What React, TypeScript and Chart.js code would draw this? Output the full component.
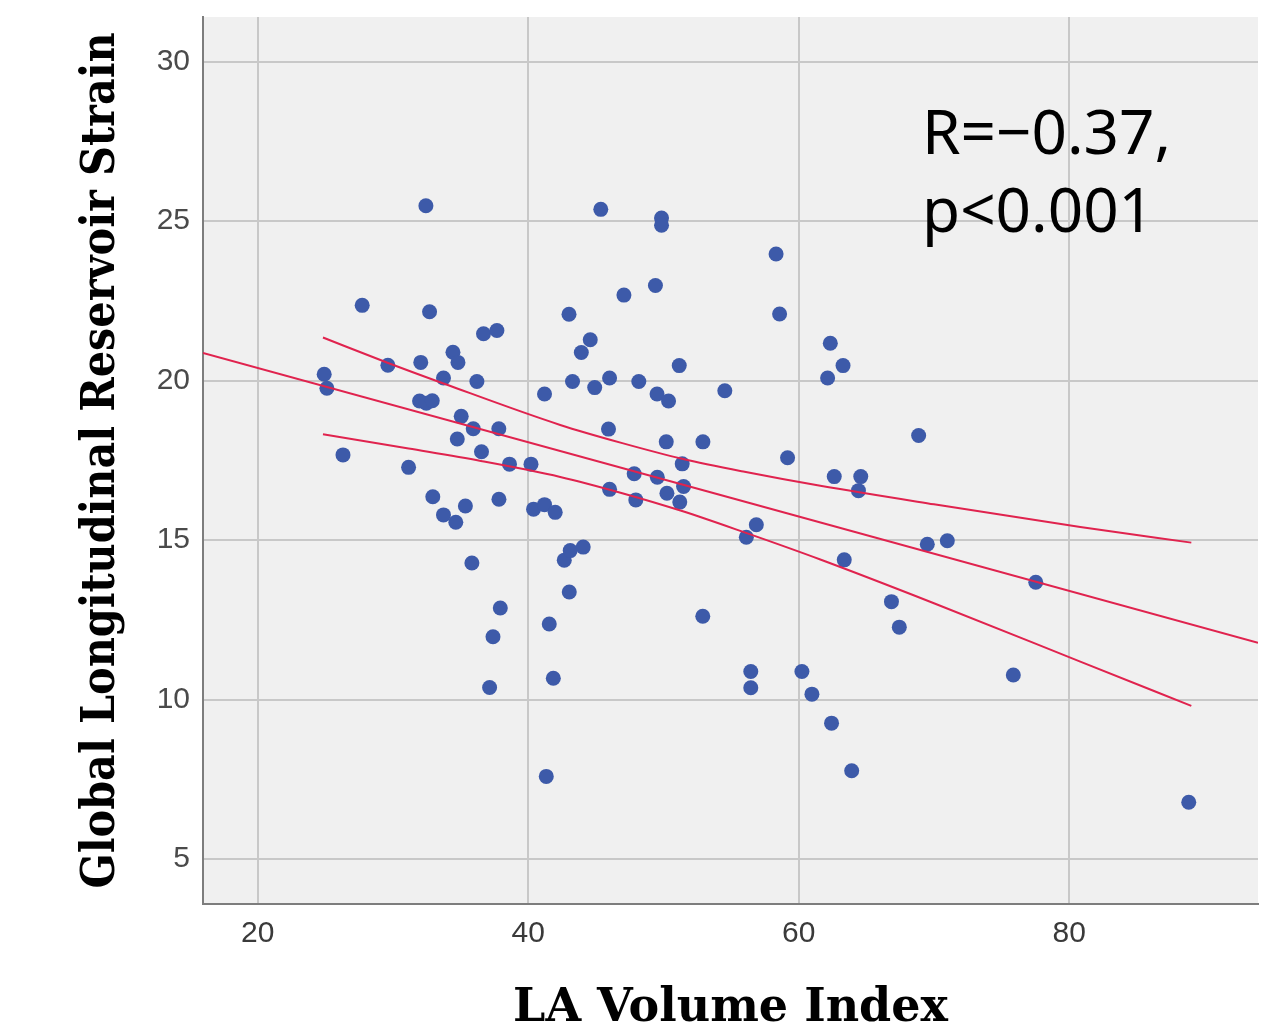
import React, { useEffect, useRef } from "react";
import { Chart, registerables } from "chart.js";

Chart.register(...registerables);

// ---- Data ----
const LA_VOLUME_INDEX = [
  24.92, 25.12, 26.31, 27.73, 29.63, 31.16, 32.06, 32.44, 31.97, 32.47,
  32.91, 32.71, 32.95, 33.74, 33.74, 34.44, 34.81, 34.76, 34.65, 35.05,
  35.36, 35.94, 35.84, 36.21, 36.55, 36.70, 37.69, 37.15, 37.40, 37.83,
  37.84, 37.94, 38.62, 40.21, 40.40, 41.21, 42.00, 41.21, 41.34, 41.56,
  41.86, 42.67, 43.11, 44.07, 43.04, 43.02, 43.28, 43.93, 44.59, 44.92,
  45.37, 46.02, 45.94, 46.02, 47.08, 47.84, 47.96, 48.18, 49.41, 49.53,
  49.55, 49.86, 49.86, 50.21, 50.38, 50.26, 51.17, 51.39, 51.49, 51.21,
  52.92, 52.91, 54.54, 56.13, 56.87, 56.46, 56.46, 58.33, 58.59, 59.18,
  60.24, 60.98, 62.34, 62.14, 63.28, 62.63, 64.59, 64.42, 62.43, 63.37,
  63.92, 66.86, 67.44, 68.87, 69.51, 70.99, 75.87, 77.53, 88.84,
];
const GLR_STRAIN = [
  20.20, 19.76, 17.67, 22.36, 20.48, 17.28, 20.57, 25.48, 19.36, 19.29,
  19.37, 22.16, 16.36, 20.08, 15.79, 20.89, 20.57, 18.17, 15.56, 18.88,
  16.07, 18.49, 14.28, 19.97, 17.77, 21.47, 21.57, 10.38, 11.97, 18.49,
  16.28, 12.87, 17.38, 17.38, 15.97, 16.11, 15.87, 19.58, 7.59, 12.37,
  10.67, 14.37, 14.67, 14.78, 13.37, 22.08, 19.97, 20.88, 21.28, 19.78,
  25.37, 20.08, 18.48, 16.59, 22.68, 17.08, 16.26, 19.97, 22.98, 19.58,
  16.97, 25.10, 24.87, 18.08, 19.36, 16.47, 20.47, 17.39, 16.68, 16.19,
  18.08, 12.61, 19.68, 15.09, 15.48, 10.88, 10.37, 23.97, 22.09, 17.58,
  10.88, 10.17, 21.17, 20.08, 20.47, 16.99, 16.99, 16.55, 9.26, 14.38,
  7.77, 13.07, 12.27, 18.28, 14.87, 14.98, 10.77, 13.68, 6.78,
];

// Regression line (read at the plot edges)
const FIT_X = [15.96, 93.96];
const FIT_Y = [20.87, 11.78];

// 95% confidence band
const CI_UPPER_X = [24.83, 29.6, 33.74, 42.37, 46.96, 51.38, 56.0, 61.6, 70.0, 80.82, 89.03];
const CI_UPPER_Y = [21.35, 20.56, 19.91, 18.61, 18.04, 17.55, 17.14, 16.7, 16.12, 15.41, 14.92];
const CI_LOWER_X = [24.83, 31.16, 36.5, 42.37, 46.96, 51.38, 56.0, 61.6, 70.0, 80.82, 89.03];
const CI_LOWER_Y = [18.32, 17.87, 17.48, 16.98, 16.47, 15.91, 15.24, 14.39, 13.02, 11.19, 9.8];

const X_TICKS = [20, 40, 60, 80];
const Y_TICKS = [5, 10, 15, 20, 25, 30];
const X_RANGE = [15.96, 93.96];
const Y_RANGE = [3.59, 31.4];

const X_TITLE = "LA Volume Index";
const Y_TITLE = "Global Longitudinal Reservoir Strain";
const ANNOTATION_LINES = ["R=\u22120.37,", "p<0.001"];

const W = 1267;
const H = 1029;

const plotBackground = {
  id: "plotBackground",
  beforeDraw(chart: any) {
    const { ctx, chartArea: a } = chart;
    ctx.save();
    ctx.fillStyle = "#f0f0f0";
    ctx.fillRect(a.left, a.top, a.right - a.left, a.bottom - a.top);
    ctx.restore();
  },
};

const annotation = {
  id: "corrAnnotation",
  afterDatasetsDraw(chart: any) {
    const { ctx, chartArea: a } = chart;
    ctx.save();
    ctx.fillStyle = "#000000";
    ctx.font = '62px "Noto Sans", "Open Sans", sans-serif';
    ctx.textAlign = "left";
    ctx.textBaseline = "alphabetic";
    ANNOTATION_LINES.forEach((t, i) => {
      ctx.fillText(t, a.left + 719, a.top + 137 + i * 77.5);
    });
    ctx.restore();
  },
};

export default function App() {
  const canvasRef = useRef<HTMLCanvasElement | null>(null);

  useEffect(() => {
    if (!canvasRef.current) return;
    const points = LA_VOLUME_INDEX.map((x, i) => ({ x, y: GLR_STRAIN[i] }));
    const fit = FIT_X.map((x, i) => ({ x, y: FIT_Y[i] }));
    const upper = CI_UPPER_X.map((x, i) => ({ x, y: CI_UPPER_Y[i] }));
    const lower = CI_LOWER_X.map((x, i) => ({ x, y: CI_LOWER_Y[i] }));
    const lineStyle = {
      type: "line" as const,
      borderColor: "#e0234e",
      borderWidth: 2,
      pointRadius: 0,
      fill: false,
      cubicInterpolationMode: "monotone" as const,
      order: 0,
    };

    const chart = new Chart(canvasRef.current, {
      type: "scatter",
      data: {
        datasets: [
          {
            data: points,
            backgroundColor: "#3d5aa9",
            borderWidth: 0,
            pointRadius: 7.5,
            pointHoverRadius: 7.5,
            order: 1,
          } as any,
          { ...lineStyle, data: fit } as any,
          { ...lineStyle, data: upper } as any,
          { ...lineStyle, data: lower } as any,
        ],
      },
      options: {
        responsive: false,
        animation: false,
        layout: { padding: { left: 0, top: 17, right: 9, bottom: 0 } },
        plugins: {
          legend: { display: false },
          tooltip: { enabled: false },
        },
        scales: {
          x: {
            type: "linear",
            min: X_RANGE[0],
            max: X_RANGE[1],
            afterBuildTicks: (s: any) => {
              s.ticks = X_TICKS.map((v) => ({ value: v }));
            },
            afterFit: (s: any) => {
              s.height = 125;
              s.paddingLeft = 0;
              s.paddingRight = 0;
            },
            ticks: {
              color: "#3a3a3a",
              font: { family: '"Liberation Sans", Arial, sans-serif', size: 30 },
              padding: 12,
            },
            grid: {
              color: "#c8c8c8",
              lineWidth: 2,
              drawTicks: false,
            },
            border: { display: true, color: "#7d7d7d", width: 2 },
            title: {
              display: true,
              text: X_TITLE,
              color: "#000000",
              font: {
                family: '"DejaVu Serif", serif',
                size: 46,
                weight: "bold",
                lineHeight: 0.85,
              },
              padding: { top: 0, bottom: 0 },
            },
          },
          y: {
            type: "linear",
            min: Y_RANGE[0],
            max: Y_RANGE[1],
            afterBuildTicks: (s: any) => {
              s.ticks = Y_TICKS.map((v) => ({ value: v }));
            },
            afterFit: (s: any) => {
              s.width = 203;
              s.paddingTop = 0;
              s.paddingBottom = 0;
            },
            ticks: {
              color: "#4a4a4a",
              font: { family: '"Liberation Sans", Arial, sans-serif', size: 30 },
              padding: 13,
            },
            grid: {
              color: "#c8c8c8",
              lineWidth: 2,
              drawTicks: false,
            },
            border: { display: true, color: "#7d7d7d", width: 2 },
            title: {
              display: true,
              text: Y_TITLE,
              color: "#000000",
              font: {
                family: '"DejaVu Serif Condensed", "DejaVu Serif", serif',
                size: 46,
                weight: "bold",
                lineHeight: 1,
              },
              padding: { top: 79, bottom: 0 },
            },
          },
        },
      },
      plugins: [plotBackground, annotation],
    });
    return () => chart.destroy();
  }, []);

  return (
    <div
      style={{
        position: "fixed",
        left: 0,
        top: 0,
        width: W,
        height: H,
        background: "#ffffff",
      }}
    >
      <canvas ref={canvasRef} width={W} height={H} style={{ display: "block" }} />
    </div>
  );
}
